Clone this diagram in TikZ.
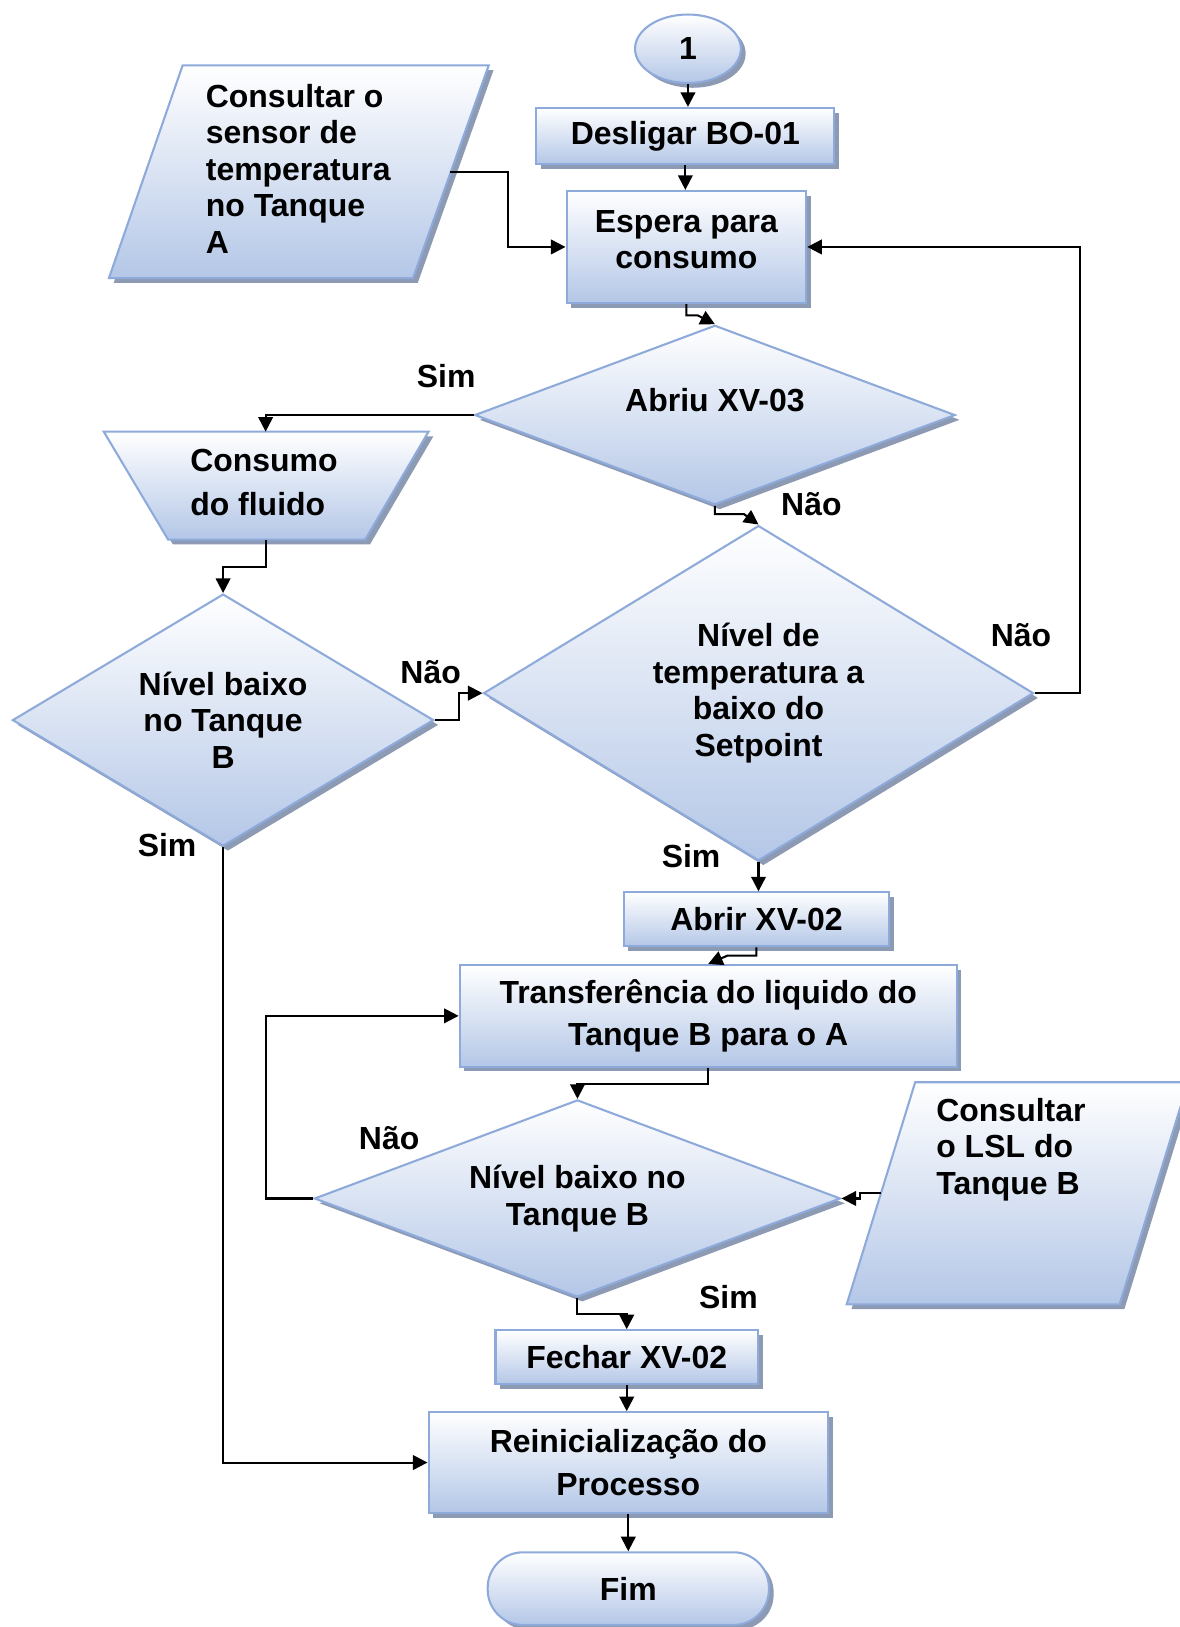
\documentclass[tikz,border=0pt]{standalone}
\usepackage{fontspec}
\setmainfont{Liberation Sans}
\usetikzlibrary{shapes.geometric,shadows,arrows.meta,calc}
\definecolor{bordc}{HTML}{8EAADB}
\definecolor{fillc}{HTML}{B4C7E7}
\definecolor{shadc}{HTML}{8C9AB4}
\newcommand{\flowfont}{\fontsize{15.4}{17.6}\selectfont\bfseries}
\tikzset{
 fc/.style={draw=bordc, line width=1pt, top color=white, bottom color=fillc,
   drop shadow={shadow xshift=2.3pt, shadow yshift=-2.3pt, fill=shadc, opacity=1},
   font=\flowfont, align=center, inner sep=0pt},
 procbox/.style={fc, rectangle},
 decis/.style={fc, diamond},
 conn/.style={line width=1pt, -{Triangle[length=7pt,width=7pt]}},
 lbl/.style={font=\flowfont, inner sep=0pt},
}
\begin{document}
\begin{tikzpicture}[x=0.5pt,y=-0.5pt]
\clip (0,0) rectangle (1137,1568);
\fill[white] (0,0) rectangle (1137,1568);

% shapes
\node[fc, ellipse, minimum width=51pt, minimum height=33pt] (circ) at (663,47) {1};
\node[procbox, minimum width=143.5pt, minimum height=27pt] (des) at (660.5,131) {Desligar BO-01};
\node[procbox, minimum width=115.5pt, minimum height=54pt,
  label={[lbl, align=center, yshift=3.5pt]center:Espera para\\consumo}] (esp) at (661.5,238) {};

\path[fc] (176,63) -- (471,63) -- (398,268) -- (105,268) -- cycle;
\node[lbl, anchor=west, align=left] (tA) at (198,162.5) {Consultar o\\sensor de\\temperatura\\no Tanque\\A};
\coordinate (pA) at (434,166);

\node[decis, aspect=2.68, minimum width=231.5pt, minimum height=86.5pt,
  label={[lbl, yshift=7pt]center:Abriu XV-03}] (abr) at (689,400) {};

\path[fc] (100,416) -- (413,416) -- (352,520) -- (162,520) -- cycle;
\node[lbl, anchor=west, align=left] (cons) at (183,465) {Consumo\\[3.4pt]do fluido};
\coordinate (consT) at (256,416);
\coordinate (consB) at (256,520);

\node[decis, aspect=1.67, minimum width=203pt, minimum height=121.5pt] (ldia) at (215,694) {Nível baixo\\no Tanque\\B};
\node[decis, aspect=1.64, minimum width=265pt, minimum height=161.5pt] (bdia) at (731,668) {Nível de\\temperatura a\\baixo do\\Setpoint};

\node[procbox, minimum width=128pt, minimum height=26pt] (abrir) at (729,886) {Abrir XV-02};
\node[procbox, minimum width=239.5pt, minimum height=49pt] (tr) at (682.5,979) {Transferência do liquido do\\[2.9pt]Tanque B para o A};

\node[decis, aspect=2.67, minimum width=253.5pt, minimum height=95pt] (d3) at (556.5,1155) {Nível baixo no\\Tanque B};

\path[fc] (882,1043) -- (1145,1043) -- (1079,1257) -- (816,1257) -- cycle;
\node[lbl, anchor=west, align=left] (tL) at (902,1108) {Consultar\\o LSL do\\Tanque B};
\coordinate (pL) at (849,1150);

\node[procbox, minimum width=126.5pt, minimum height=26pt] (fech) at (604,1308) {Fechar XV-02};
\node[procbox, minimum width=192.5pt, minimum height=48.5pt] (rei) at (605.5,1409.5) {Reinicialização do\\[2.9pt]Processo};
\node[fc, rectangle, rounded corners=17pt, minimum width=135.5pt, minimum height=35pt] (fim) at (605.5,1531) {Fim};

% labels
\node[lbl] (s1) at (430,362) {Sim};
\node[lbl] (n1) at (782,486) {Não};
\node[lbl] (n2) at (415,648) {Não};
\node[lbl] (n3) at (984,612) {Não};
\node[lbl] (s2) at (161,814) {Sim};
\node[lbl] (s3) at (666,825) {Sim};
\node[lbl] (n4) at (375,1097) {Não};
\node[lbl] (s4) at (702,1250) {Sim};

% connectors
\draw[conn] (circ.south) -- (circ.south |- des.north);
\draw[conn] (des.south) -- (des.south |- esp.north);
\draw[conn] (pA) -- ++(56,0) |- (esp.west);
\draw[conn] (esp.south) -- ++(0,11) -- ++(11,0) -- (abr.north);
\draw[conn] (abr.west) -| (consT);
\draw[conn] (consB) -- ++(0,26) -| (ldia.north);
\draw[conn] (ldia.east) -- ++(23,0) |- (bdia.west);
\draw[conn] (ldia.south) |- (rei.west);
\draw[conn] (abr.south) -- ++(0,8) -- ++(28,0) -- (bdia.north);
\draw[conn] (bdia.east) -- ++(44,0) |- (esp.east);
\draw[conn] (bdia.south) -- (bdia.south |- abrir.north);
\draw[conn] (abrir.south) -- ++(0,8) -- ++(-28,0) -- (tr.north);
\draw[conn] (tr.south) -- ++(0,16) -| (d3.north);
\draw[conn] (d3.west) -- ++(-46,0) |- (tr.west);
\draw[conn] (d3.south) -- ++(0,15) -| (fech.north);
\draw[conn] (pL) -- ++(-20,0) |- (d3.east);
\draw[conn] (fech.south) -- (fech.south |- rei.north);
\draw[conn] (rei.south) -- (rei.south |- fim.north);
\end{tikzpicture}
\end{document}
